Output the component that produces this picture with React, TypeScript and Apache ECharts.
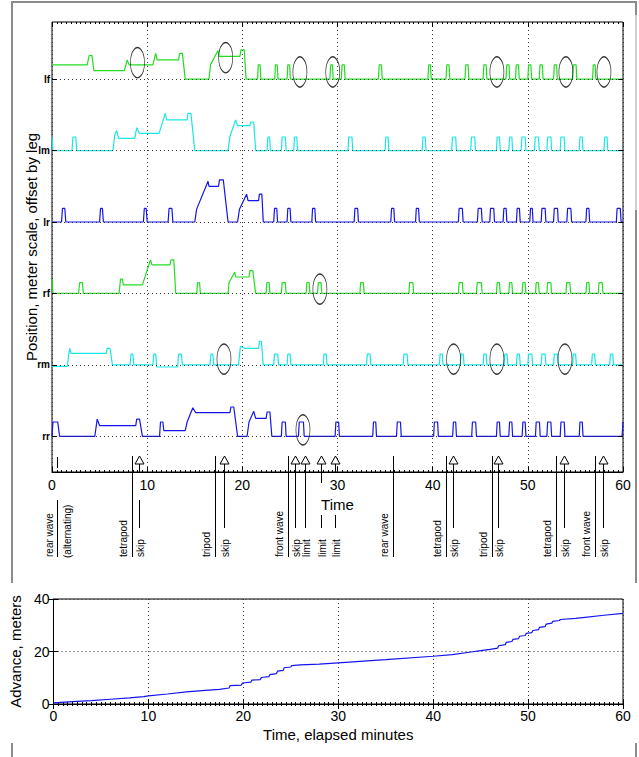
import React, { useEffect, useRef } from 'react';
import * as echarts from 'echarts';

// ---------------- DATA ----------------
const legNames = ['rr', 'rm', 'rf', 'lr', 'lm', 'lf'];
const legOffsets = [1, 2, 3, 4, 5, 6];
const pulseHeights = [0.2, 0.15, 0.15, 0.19, 0.19, 0.2];

// [time (min), displacement above leg baseline]
const rrPath = [[0, 0], [0.1, 0.2], [0.6, 0.2], [0.8, 0], [4.5, 0], [4.75, 0.24], [5.0, 0.15], [8.8, 0.15], [8.9, 0.24], [9.2, 0.24], [9.5, 0], [11.3, 0], [11.4, 0.2], [11.65, 0.2], [11.75, 0.08], [14.0, 0.08], [14.2, 0.2], [14.8, 0.4], [15.1, 0.33], [18.7, 0.33], [18.8, 0.41], [19.1, 0.41], [19.5, 0], [20.5, 0], [20.7, 0.2], [21.2, 0.35], [21.4, 0.25], [22.5, 0.25], [22.6, 0.34], [22.9, 0.34], [23.1, 0]];
const rrPulses = [[24.1, 24.6], [25.9, 26.5], [29.75, 30.2], [33.7, 34.1], [36.2, 36.7], [40.1, 40.6], [42.1, 42.5], [44.1, 44.6], [46.7, 47.1], [48.0, 48.4], [49.4, 49.8], [50.8, 51.3], [52.0, 52.5], [53.4, 53.9], [55.4, 55.8]];
const rrTail = [[59.9, 0], [60, 0.2]];

const rmPath = [[0, -0.02], [1.6, -0.02], [1.85, 0.23], [2.0, 0.16], [5.7, 0.16], [5.8, 0.23], [6.1, 0.23], [6.35, 0], [8.2, 0], [8.3, 0.15], [8.5, 0.15], [8.6, 0], [10.6, 0], [10.7, 0.15], [10.9, 0.15], [11.0, -0.03], [13.2, -0.03], [13.3, 0.15], [13.6, 0.15], [13.7, 0], [16.6, 0], [16.7, 0.15], [16.9, 0.15], [17.0, 0], [19.6, 0], [19.8, 0.26], [20.3, 0.23], [21.7, 0.23], [21.8, 0.33], [22.0, 0.33], [22.2, 0]];
const rmPulses = [[23.3, 23.8], [24.7, 25.1], [28.5, 28.9], [33.05, 33.5], [36.9, 37.4], [40.7, 41.1], [42.9, 43.3], [45.3, 45.7], [47.5, 47.9], [48.8, 49.2], [50.0, 50.5], [51.4, 51.9], [52.7, 53.2], [54.7, 55.1], [56.7, 57.1], [58.6, 59.0]];
const rmTail = [[60, 0]];

const rfPath = [[0, 0.2], [0.1, 0], [2.8, 0], [2.9, 0.15], [3.2, 0.15], [3.3, 0], [7.05, 0], [7.2, 0.2], [7.4, 0.2], [7.5, 0.12], [9.5, 0.12], [10.35, 0.47], [10.5, 0.4], [12.4, 0.4], [12.5, 0.47], [12.8, 0.47], [13.0, 0], [15.2, 0], [15.3, 0.15], [15.5, 0.15], [15.6, 0], [18.5, 0], [18.6, 0.15], [19.2, 0.3], [19.3, 0.23], [20.7, 0.23], [20.8, 0.32], [21.1, 0.32], [21.4, 0]];
const rfPulses = [[22.5, 22.9], [24.1, 24.6], [26.7, 27.1], [27.9, 28.35], [32.35, 32.8], [37.5, 38.0], [42.7, 43.2], [44.6, 45.2], [46.7, 47.1], [48.0, 48.4], [49.4, 49.8], [50.8, 51.2], [52.0, 52.5], [54.0, 54.5], [56.1, 56.5], [57.4, 57.9]];
const rfTail = [[60, 0]];

const lrPath = [[0, 0], [1.0, 0], [1.1, 0.19], [1.35, 0.19], [1.45, 0], [5.0, 0], [5.1, 0.19], [5.3, 0.19], [5.4, 0], [9.6, 0], [9.7, 0.19], [9.9, 0.19], [10.0, 0], [12.2, 0], [12.3, 0.19], [12.6, 0.19], [12.7, 0], [15.0, 0], [15.2, 0.18], [16.4, 0.57], [16.5, 0.5], [17.5, 0.5], [17.6, 0.59], [18.0, 0.59], [18.5, 0], [19.5, 0], [19.7, 0.18], [20.45, 0.39], [20.6, 0.3], [21.7, 0.3], [21.8, 0.39], [22.05, 0.39], [22.2, 0]];
const lrPulses = [[23.3, 23.7], [24.7, 25.1], [27.3, 27.7], [31.75, 32.2], [35.6, 36.0], [38.2, 38.6], [42.7, 43.2], [44.7, 45.2], [46.0, 46.5], [47.4, 47.8], [48.8, 49.2], [50.2, 50.55], [51.4, 51.9], [52.7, 53.2], [54.1, 54.6], [56.1, 56.5], [59.3, 59.8]];
const lrTail = [[60, 0]];

const lmPath = [[0, 0.19], [0.1, 0], [2.1, 0], [2.2, 0.19], [2.5, 0.19], [2.6, 0], [6.4, 0], [6.6, 0.22], [6.8, 0.28], [7.0, 0.17], [8.7, 0.17], [8.9, 0.32], [9.2, 0.24], [11.25, 0.24], [11.9, 0.52], [12.05, 0.43], [14.2, 0.43], [14.3, 0.52], [14.6, 0.52], [15.0, 0], [18.5, 0], [18.7, 0.2], [19.3, 0.43], [19.5, 0.35], [20.8, 0.35], [20.9, 0.4], [21.2, 0.4], [21.4, 0]];
const lmPulses = [[22.6, 22.95], [24.1, 24.6], [25.4, 25.8], [31.1, 31.6], [35.0, 35.4], [38.9, 39.3], [42.0, 42.5], [44.0, 44.5], [46.7, 47.1], [48.0, 48.4], [49.3, 49.8], [50.7, 51.2], [52.0, 52.5], [53.4, 53.9], [55.4, 55.8], [58.0, 58.4]];
const lmTail = [[60, 0]];

const lfPath = [[0, 0.2], [3.7, 0.2], [3.9, 0.33], [4.2, 0.33], [4.4, 0.12], [7.6, 0.12], [7.9, 0.27], [8.1, 0.2], [10.6, 0.2], [10.9, 0.36], [11.05, 0.27], [13.3, 0.27], [13.4, 0.36], [13.7, 0.36], [14.0, 0], [16.5, 0], [16.65, 0.2], [17.45, 0.4], [17.55, 0.32], [19.75, 0.32], [19.85, 0.41], [20.2, 0.41], [20.4, 0]];
const lfPulses = [[21.6, 21.95], [23.4, 23.75], [24.7, 25.05], [29.2, 29.55], [30.4, 30.8], [34.3, 34.7], [39.5, 39.85], [41.4, 41.8], [43.4, 43.8], [45.3, 45.7], [47.7, 48.1], [48.7, 49.1], [50.0, 50.4], [51.2, 51.6], [52.7, 53.1], [54.7, 55.15], [56.8, 57.15]];
const lfTail = [[60, 0]];

const legPaths = [rrPath, rmPath, rfPath, lrPath, lmPath, lfPath];
const legPulses = [rrPulses, rmPulses, rfPulses, lrPulses, lmPulses, lfPulses];
const legTails = [rrTail, rmTail, rfTail, lrTail, lmTail, lfTail];

// circled events: time, leg index, displacement
const ellipseT = [8.98, 18.25, 26.05, 29.5, 46.75, 54.0, 58.0, 28.15, 18.07, 42.2, 46.75, 53.9, 26.37];
const ellipseLeg = [5, 5, 5, 5, 5, 5, 5, 2, 1, 1, 1, 1, 0];
const ellipseDv = [0.23, 0.3, 0.1, 0.1, 0.1, 0.1, 0.1, 0.06, 0.08, 0.08, 0.08, 0.08, 0.09];

// gait / event annotations
const eventT = [0.5, 8.4, 9.15, 17.1, 18.1, 24.85, 25.5, 26.6, 28.26, 29.7, 35.85, 41.4, 42.1, 46.2, 46.9, 53.0, 53.8, 57.1, 57.9];
const eventKind = ['start', 'gait', 'arrow', 'gait', 'arrow', 'gait', 'arrow', 'arrow', 'arrow', 'arrow', 'gait', 'gait', 'arrow', 'gait', 'arrow', 'gait', 'arrow', 'gait', 'arrow'];
const eventLabel = ['rear wave', 'tetrapod', 'skip', 'tripod', 'skip', 'front wave', 'skip', 'limit', 'limit', 'limit', 'rear wave', 'tetrapod', 'skip', 'tripod', 'skip', 'tetrapod', 'skip', 'front wave', 'skip'];
const startSubLabel = '(alternating)';

// advance (m) vs time (min)
const advT = [0, 2, 4, 6, 8, 9.5, 10, 12, 14, 16, 17.5, 18.5, 18.6, 19.8, 19.9, 20.8, 20.9, 21.8, 21.9, 22.7, 22.8, 23.5, 23.6, 24.2, 24.3, 25, 25.1, 26, 28, 30, 35, 40, 42, 44, 45, 46, 46.8, 46.9, 47.6, 47.7, 48.3, 48.4, 49, 49.1, 49.7, 49.8, 50.4, 50.5, 51.1, 51.2, 51.8, 51.9, 52.5, 52.6, 53.3, 53.4, 55, 56, 58, 60];
const advY = [0.4, 0.9, 1.3, 1.8, 2.3, 2.8, 3.1, 3.8, 4.6, 5.2, 5.6, 6.1, 7.0, 7.2, 8.0, 8.3, 9.1, 9.3, 10.1, 10.4, 11.2, 11.6, 12.5, 12.8, 13.8, 14.1, 14.6, 14.9, 15.2, 15.7, 16.9, 18.2, 18.8, 19.8, 20.3, 20.8, 21.3, 22.2, 22.6, 23.5, 23.8, 24.6, 24.9, 25.8, 26.1, 26.9, 27.2, 28.0, 28.3, 29.2, 29.5, 30.4, 30.8, 31.5, 31.8, 32.2, 32.6, 33.0, 33.8, 34.5];

const xTicks = [0, 60, 10];

// ---------------- STYLE ----------------
const FONT = '"Liberation Sans", Arial, Helvetica, sans-serif';
const legColors = ['#1414ee', '#1ae6e6', '#22dd22', '#1414ee', '#1ae6e6', '#22dd22'];
const gridDot = { color: '#333', type: [1, 3] as number[], width: 1 };
// line breaks for arrow stems (relative to axis pixel), keyed by event index
const stemBreaks: Record<number, number[][]> = {
  2: [[-8, 0], [28, 56]],
  8: [[-8, 11], [43, 56]],
  9: [[-8, 0], [43, 56]],
};

export default function App() {
  const ref = useRef<HTMLDivElement>(null);
  useEffect(() => {
    const el = ref.current!;
    const chart = echarts.init(el, null, { renderer: 'svg' });

    const legSeries = legNames.map((name, i) => {
      const off = legOffsets[i];
      const h = pulseHeights[i];
      const pts: number[][] = legPaths[i].map((p) => [p[0], p[1]]);
      legPulses[i].forEach(([a, b]) => {
        pts.push([a, 0], [a + 0.08, h], [b - 0.08, h], [b, 0]);
      });
      legTails[i].forEach((p) => pts.push([p[0], p[1]]));
      const tickStyle = { color: '#000', type: 'solid', width: 1 };
      return {
        type: 'line',
        name,
        xAxisIndex: 0,
        yAxisIndex: 0,
        data: pts.map(([t, v]) => [t, v + off]),
        symbol: 'none',
        showSymbol: false,
        lineStyle: { color: legColors[i], width: 1.2 },
        itemStyle: { color: legColors[i] },
        z: 3,
        silent: true,
        markLine: {
          silent: true,
          symbol: ['none', 'none'],
          animation: false,
          data: [
            {
              yAxis: off,
              lineStyle: gridDot,
              label: {
                show: true,
                position: 'start',
                formatter: name,
                fontWeight: 'bold',
                fontSize: 10,
                color: '#000',
                distance: 2,
                fontFamily: FONT,
              },
            },
            [
              { coord: [0, off], lineStyle: tickStyle, label: { show: false } },
              { coord: [0.5, off] },
            ],
            [
              { coord: [59.5, off], lineStyle: tickStyle, label: { show: false } },
              { coord: [60, off] },
            ],
          ],
        },
      };
    });

    const ellipseData = ellipseT.map((t, k) => [t, legOffsets[ellipseLeg[k]] + ellipseDv[k]]);

    const axisText = { color: '#000', fontSize: 14, fontFamily: FONT };
    const nameText = { color: '#000', fontSize: 15, fontFamily: FONT };

    const option: any = {
      animation: false,
      backgroundColor: '#fff',
      textStyle: { fontFamily: FONT },
      grid: [
        { left: 52, right: 16, top: 22, height: 450, show: true, borderColor: '#000', borderWidth: 1, backgroundColor: 'transparent' },
        { left: 51, right: 16, top: 599, height: 105, show: true, borderColor: '#000', borderWidth: 1, backgroundColor: 'transparent' },
      ],
      xAxis: [
        {
          type: 'value', gridIndex: 0, min: xTicks[0], max: xTicks[1], interval: xTicks[2], position: 'bottom',
          name: 'Time', nameLocation: 'middle', nameGap: 24, nameTextStyle: nameText,
          axisLine: { show: true, lineStyle: { color: '#000', width: 1 } },
          axisTick: { show: true, inside: true, length: 5, lineStyle: { color: '#000' } },
          minorTick: { show: true, splitNumber: 20, length: 2, lineStyle: { color: '#000' } },
          axisLabel: { ...axisText, margin: 6 },
          splitLine: { show: true, lineStyle: gridDot },
        },
        {
          type: 'value', gridIndex: 0, min: xTicks[0], max: xTicks[1], interval: xTicks[2], position: 'top',
          axisLine: { show: false },
          axisTick: { show: true, inside: true, length: 5, lineStyle: { color: '#000' } },
          minorTick: { show: true, splitNumber: 20, length: 2, lineStyle: { color: '#000' } },
          axisLabel: { show: false },
          splitLine: { show: false },
        },
        {
          type: 'value', gridIndex: 1, min: xTicks[0], max: xTicks[1], interval: xTicks[2], position: 'bottom',
          name: 'Time, elapsed minutes', nameLocation: 'middle', nameGap: 23, nameTextStyle: nameText,
          axisLine: { show: true, lineStyle: { color: '#000', width: 1 } },
          axisTick: { show: true, inside: true, length: 5, lineStyle: { color: '#000' } },
          minorTick: { show: true, splitNumber: 20, length: 2, lineStyle: { color: '#000' } },
          axisLabel: { ...axisText, margin: 5 },
          splitLine: { show: true, lineStyle: gridDot },
        },
        {
          type: 'value', gridIndex: 1, min: xTicks[0], max: xTicks[1], interval: xTicks[2], position: 'top',
          axisLine: { show: false },
          axisTick: { show: true, inside: true, length: 5, lineStyle: { color: '#000' } },
          minorTick: { show: true, splitNumber: 20, length: 2, lineStyle: { color: '#000' } },
          axisLabel: { show: false },
          splitLine: { show: false },
        },
      ],
      yAxis: [
        {
          type: 'value', gridIndex: 0, min: 0.5, max: 6.8,
          name: 'Position, meter scale, offset by leg', nameLocation: 'middle', nameGap: 13, nameTextStyle: nameText,
          axisLine: { show: false }, axisTick: { show: false }, axisLabel: { show: false }, splitLine: { show: false },
        },
        {
          type: 'value', gridIndex: 1, min: 0, max: 40, interval: 20,
          name: 'Advance, meters', nameLocation: 'middle', nameGap: 23, nameTextStyle: nameText,
          axisLine: { show: true, lineStyle: { color: '#000' } },
          axisTick: { show: true, inside: true, length: 5, lineStyle: { color: '#000' } },
          axisLabel: { ...axisText, margin: 4 },
          splitLine: { show: true, lineStyle: gridDot },
        },
        {
          type: 'value', gridIndex: 1, min: 0, max: 40, interval: 20, position: 'right',
          axisLine: { show: false },
          axisTick: { show: true, inside: true, length: 5, lineStyle: { color: '#000' } },
          axisLabel: { show: false }, splitLine: { show: false },
        },
      ],
      series: [
        ...legSeries,
        {
          type: 'scatter', xAxisIndex: 0, yAxisIndex: 0, data: ellipseData,
          symbol: 'circle', symbolSize: [14, 30], z: 4, silent: true,
          itemStyle: { color: 'rgba(0,0,0,0)', borderColor: '#000', borderWidth: 1 },
        },
        {
          type: 'line', xAxisIndex: 2, yAxisIndex: 1,
          data: advT.map((t, k) => [t, advY[k]]),
          symbol: 'none', showSymbol: false, silent: true,
          lineStyle: { color: '#1414ee', width: 1.2 }, itemStyle: { color: '#1414ee' },
        },
      ],
    };
    chart.setOption(option);

    // annotations below the top panel, positioned through the axis scale
    const yb = chart.convertToPixel({ yAxisIndex: 0 }, 0.5) as number;
    const px = (t: number) => chart.convertToPixel({ xAxisIndex: 0 }, t) as number;
    const g: any[] = [];
    const line = (x1: number, y1: number, x2: number, y2: number, stroke = '#000', w = 1) =>
      g.push({ type: 'line', silent: true, z: 10, shape: { x1, y1, x2, y2 }, style: { stroke, lineWidth: w } });
    const vtext = (x: number, y: number, text: string) =>
      g.push({
        type: 'text', silent: true, z: 10, x, y, rotation: Math.PI / 2,
        style: { text, fill: '#000', fontSize: 10, fontFamily: FONT, align: 'left', verticalAlign: 'middle' },
      });

    eventT.forEach((t, k) => {
      const x = Math.round(px(t)) + 0.5;
      const kind = eventKind[k];
      if (kind === 'start') {
        line(x, yb - 15, x, yb - 4);
        line(x, yb + 28, x, yb + 85);
        vtext(x - 8, yb + 85, eventLabel[k]);
        vtext(x + 10, yb + 86, startSubLabel);
      } else if (kind === 'gait') {
        line(x, yb - 16, x, yb + 85);
        vtext(x - 9, yb + 85, eventLabel[k]);
      } else {
        const segs = stemBreaks[k] || [[-8, 56]];
        segs.forEach(([a, b]) => line(x, yb + a, x, yb + b));
        g.push({
          type: 'polygon', silent: true, z: 11,
          shape: { points: [[x, yb - 16], [x - 4.5, yb - 8], [x + 4.5, yb - 8]] },
          style: { fill: '#fff', stroke: '#000', lineWidth: 1 },
        });
        vtext(x + 1, yb + 85, eventLabel[k]);
      }
    });

    // figure frame
    const fc = '#8c8c8c';
    line(12, 2, 637, 2, fc, 2);
    line(12, 1, 12, 583, fc, 2);
    line(12, 743, 12, 757, fc, 2);
    line(636, 1, 636, 15, fc, 2);
    line(636, 15, 636, 210, '#d0d0d0', 2);
    line(636, 210, 636, 583, fc, 2);
    line(636, 743, 636, 757, fc, 2);

    chart.setOption({ graphic: g });

    return () => chart.dispose();
  }, []);

  return (
    <div
      ref={ref}
      style={{ position: 'fixed', left: 0, top: 0, width: 639, height: 757, background: '#fff' }}
    />
  );
}
